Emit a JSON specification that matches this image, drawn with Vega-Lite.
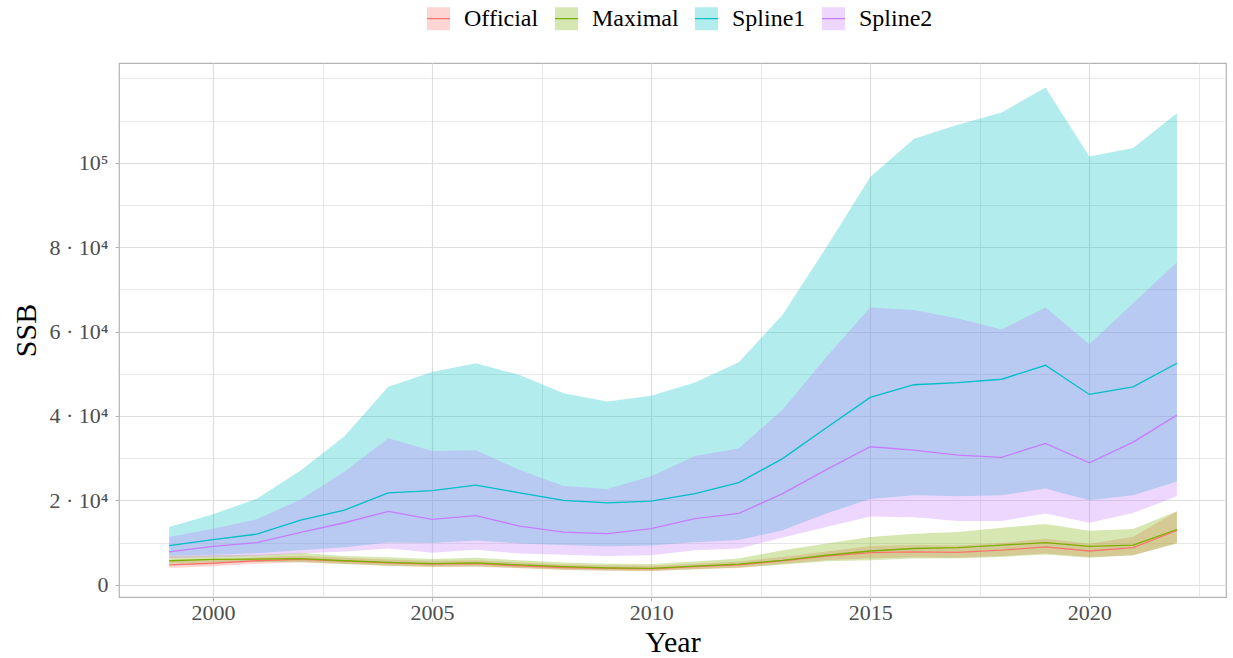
{
  "$schema": "https://vega.github.io/schema/vega-lite/v6.json",
  "width": 1107,
  "height": 534,
  "autosize": "none",
  "padding": {"left": 119, "top": 63, "right": 7, "bottom": 61},
  "background": "white",
  "config": {
    "view": {"stroke": "#b3b3b3", "strokeWidth": 1.2},
    "axis": {
      "labelFont": "Liberation Serif",
      "labelFontSize": 22,
      "labelColor": "#4d4d4d",
      "titleFont": "Liberation Serif",
      "titleFontSize": 30,
      "titleFontWeight": "normal",
      "titleColor": "black",
      "tickColor": "#b3b3b3",
      "tickSize": 4,
      "domain": false,
      "gridColor": "#dedede"
    }
  },
  "data": {"values": [
    {"year":1999,"series":"Official","est":4700,"lo":4000,"hi":5600},
    {"year":2000,"series":"Official","est":5100,"lo":4400,"hi":5900},
    {"year":2001,"series":"Official","est":5700,"lo":5000,"hi":6500},
    {"year":2002,"series":"Official","est":6000,"lo":5300,"hi":6900},
    {"year":2003,"series":"Official","est":5600,"lo":4900,"hi":6400},
    {"year":2004,"series":"Official","est":5200,"lo":4500,"hi":6000},
    {"year":2005,"series":"Official","est":4900,"lo":4200,"hi":5700},
    {"year":2006,"series":"Official","est":5000,"lo":4300,"hi":5800},
    {"year":2007,"series":"Official","est":4500,"lo":3900,"hi":5300},
    {"year":2008,"series":"Official","est":4100,"lo":3500,"hi":4800},
    {"year":2009,"series":"Official","est":3900,"lo":3300,"hi":4600},
    {"year":2010,"series":"Official","est":3800,"lo":3200,"hi":4500},
    {"year":2011,"series":"Official","est":4300,"lo":3700,"hi":5000},
    {"year":2012,"series":"Official","est":4700,"lo":4000,"hi":5500},
    {"year":2013,"series":"Official","est":5700,"lo":4900,"hi":6600},
    {"year":2014,"series":"Official","est":6800,"lo":5800,"hi":7900},
    {"year":2015,"series":"Official","est":7600,"lo":6300,"hi":9200},
    {"year":2016,"series":"Official","est":7800,"lo":6500,"hi":9400},
    {"year":2017,"series":"Official","est":7700,"lo":6400,"hi":9300},
    {"year":2018,"series":"Official","est":8200,"lo":6800,"hi":9900},
    {"year":2019,"series":"Official","est":9000,"lo":7400,"hi":10900},
    {"year":2020,"series":"Official","est":8000,"lo":6600,"hi":9700},
    {"year":2021,"series":"Official","est":8800,"lo":7000,"hi":11400},
    {"year":2022,"series":"Official","est":12900,"lo":9900,"hi":17400},
    {"year":1999,"series":"Maximal","est":5700,"lo":5000,"hi":6800},
    {"year":2000,"series":"Maximal","est":6000,"lo":5300,"hi":7000},
    {"year":2001,"series":"Maximal","est":6100,"lo":5400,"hi":7100},
    {"year":2002,"series":"Maximal","est":6200,"lo":5400,"hi":7600},
    {"year":2003,"series":"Maximal","est":5700,"lo":4900,"hi":6800},
    {"year":2004,"series":"Maximal","est":5300,"lo":4500,"hi":6500},
    {"year":2005,"series":"Maximal","est":5000,"lo":4300,"hi":6100},
    {"year":2006,"series":"Maximal","est":5200,"lo":4400,"hi":6400},
    {"year":2007,"series":"Maximal","est":4700,"lo":4000,"hi":5800},
    {"year":2008,"series":"Maximal","est":4300,"lo":3600,"hi":5300},
    {"year":2009,"series":"Maximal","est":4000,"lo":3400,"hi":5000},
    {"year":2010,"series":"Maximal","est":3900,"lo":3300,"hi":4900},
    {"year":2011,"series":"Maximal","est":4400,"lo":3700,"hi":5500},
    {"year":2012,"series":"Maximal","est":4900,"lo":4100,"hi":6200},
    {"year":2013,"series":"Maximal","est":5800,"lo":4800,"hi":8200},
    {"year":2014,"series":"Maximal","est":7000,"lo":5600,"hi":9800},
    {"year":2015,"series":"Maximal","est":8000,"lo":5800,"hi":11300},
    {"year":2016,"series":"Maximal","est":8600,"lo":6200,"hi":12100},
    {"year":2017,"series":"Maximal","est":8800,"lo":6300,"hi":12500},
    {"year":2018,"series":"Maximal","est":9400,"lo":6600,"hi":13500},
    {"year":2019,"series":"Maximal","est":10000,"lo":7200,"hi":14400},
    {"year":2020,"series":"Maximal","est":9100,"lo":6400,"hi":12800},
    {"year":2021,"series":"Maximal","est":9400,"lo":7000,"hi":13200},
    {"year":2022,"series":"Maximal","est":13100,"lo":9800,"hi":17400},
    {"year":1999,"series":"Spline1","est":9300,"lo":6900,"hi":13700},
    {"year":2000,"series":"Spline1","est":10700,"lo":7100,"hi":16700},
    {"year":2001,"series":"Spline1","est":12000,"lo":7500,"hi":20400},
    {"year":2002,"series":"Spline1","est":15300,"lo":8200,"hi":27100},
    {"year":2003,"series":"Spline1","est":17700,"lo":8900,"hi":35200},
    {"year":2004,"series":"Spline1","est":21800,"lo":10000,"hi":46900},
    {"year":2005,"series":"Spline1","est":22300,"lo":9900,"hi":50400},
    {"year":2006,"series":"Spline1","est":23600,"lo":10500,"hi":52500},
    {"year":2007,"series":"Spline1","est":21800,"lo":9800,"hi":49700},
    {"year":2008,"series":"Spline1","est":20000,"lo":9400,"hi":45400},
    {"year":2009,"series":"Spline1","est":19400,"lo":9100,"hi":43400},
    {"year":2010,"series":"Spline1","est":19800,"lo":9300,"hi":44800},
    {"year":2011,"series":"Spline1","est":21600,"lo":10100,"hi":47900},
    {"year":2012,"series":"Spline1","est":24200,"lo":10600,"hi":52700},
    {"year":2013,"series":"Spline1","est":29900,"lo":12900,"hi":64000},
    {"year":2014,"series":"Spline1","est":37200,"lo":16900,"hi":80000},
    {"year":2015,"series":"Spline1","est":44400,"lo":20300,"hi":96600},
    {"year":2016,"series":"Spline1","est":47400,"lo":21200,"hi":105700},
    {"year":2017,"series":"Spline1","est":47900,"lo":21000,"hi":109000},
    {"year":2018,"series":"Spline1","est":48700,"lo":21200,"hi":111900},
    {"year":2019,"series":"Spline1","est":52000,"lo":22800,"hi":117800},
    {"year":2020,"series":"Spline1","est":45100,"lo":20000,"hi":101500},
    {"year":2021,"series":"Spline1","est":46900,"lo":21200,"hi":103500},
    {"year":2022,"series":"Spline1","est":52500,"lo":24500,"hi":111700},
    {"year":1999,"series":"Spline2","est":7800,"lo":6300,"hi":11300},
    {"year":2000,"series":"Spline2","est":9100,"lo":6500,"hi":13300},
    {"year":2001,"series":"Spline2","est":10000,"lo":6800,"hi":15500},
    {"year":2002,"series":"Spline2","est":12400,"lo":7400,"hi":20200},
    {"year":2003,"series":"Spline2","est":14700,"lo":7900,"hi":26800},
    {"year":2004,"series":"Spline2","est":17400,"lo":8600,"hi":34700},
    {"year":2005,"series":"Spline2","est":15500,"lo":7600,"hi":31700},
    {"year":2006,"series":"Spline2","est":16400,"lo":8300,"hi":31900},
    {"year":2007,"series":"Spline2","est":13900,"lo":7400,"hi":27200},
    {"year":2008,"series":"Spline2","est":12500,"lo":7100,"hi":23400},
    {"year":2009,"series":"Spline2","est":12100,"lo":6800,"hi":22700},
    {"year":2010,"series":"Spline2","est":13300,"lo":7000,"hi":25700},
    {"year":2011,"series":"Spline2","est":15700,"lo":8200,"hi":30500},
    {"year":2012,"series":"Spline2","est":16900,"lo":8600,"hi":32300},
    {"year":2013,"series":"Spline2","est":21600,"lo":11200,"hi":41500},
    {"year":2014,"series":"Spline2","est":27300,"lo":13700,"hi":54000},
    {"year":2015,"series":"Spline2","est":32700,"lo":16200,"hi":65700},
    {"year":2016,"series":"Spline2","est":31900,"lo":16000,"hi":65100},
    {"year":2017,"series":"Spline2","est":30700,"lo":15100,"hi":63100},
    {"year":2018,"series":"Spline2","est":30200,"lo":15100,"hi":60500},
    {"year":2019,"series":"Spline2","est":33500,"lo":16900,"hi":65700},
    {"year":2020,"series":"Spline2","est":28900,"lo":14700,"hi":57000},
    {"year":2021,"series":"Spline2","est":33800,"lo":17000,"hi":66700},
    {"year":2022,"series":"Spline2","est":40200,"lo":21000,"hi":76400}
  ]},
  "encoding": {
    "x": {
      "field": "year",
      "type": "quantitative",
      "scale": {"domain": [1997.855, 2023.12], "nice": false, "zero": false},
      "axis": {
        "title": "Year",
        "values": [2000, 2002.5, 2005, 2007.5, 2010, 2012.5, 2015, 2017.5, 2020, 2022.5],
        "labelExpr": "datum.value % 5 === 0 ? '' + datum.value : ''",
        "grid": true,
        "gridWidth": {"condition": {"test": "datum.value % 5 === 0", "value": 1.2}, "value": 0.7},
        "tickOpacity": {"condition": {"test": "datum.value % 5 === 0", "value": 1}, "value": 0},
        "labelPadding": 1,
        "titlePadding": 4
      }
    }
  },
  "layer": [
    {
      "mark": {"type": "area", "fillOpacity": 0.3},
      "encoding": {
        "y": {
          "field": "lo",
          "type": "quantitative",
          "scale": {"domain": [-2894, 123629], "nice": false, "zero": false},
          "axis": {
            "title": "SSB",
            "values": [0, 10000, 20000, 30000, 40000, 50000, 60000, 70000, 80000, 90000, 100000, 110000, 120000],
            "labelExpr": "datum.value % 20000 === 0 && datum.value <= 100000 ? (datum.value === 0 ? '0' : (datum.value === 100000 ? '10⁵' : (datum.value / 10000) + ' · 10⁴')) : ''",
            "grid": true,
            "gridWidth": {"condition": {"test": "datum.value % 20000 === 0 && datum.value <= 100000", "value": 1.2}, "value": 0.7},
            "tickOpacity": {"condition": {"test": "datum.value % 20000 === 0 && datum.value <= 100000", "value": 1}, "value": 0},
            "labelPadding": 7,
            "titlePadding": 8
          }
        },
        "y2": {"field": "hi"},
        "fill": {
          "field": "series",
          "type": "nominal",
          "scale": {"domain": ["Official", "Maximal", "Spline1", "Spline2"], "range": ["#F8766D", "#7CAE00", "#00BFC4", "#C77CFF"]},
          "legend": {
            "title": null,
            "orient": "none",
            "legendX": 307,
            "legendY": -57,
            "direction": "horizontal",
            "symbolType": "M-1,0H1V-1H-1V1H1V0Z",
            "symbolSize": 529,
            "symbolStrokeWidth": 1.3,
            "symbolDash": [23, 92],
            "labelFont": "Liberation Serif",
            "labelFontSize": 24,
            "labelColor": "black",
            "labelOffset": 13,
            "columnPadding": 13,
            "labelLimit": 0,
            "encode": {"symbols": {"update": {"fillOpacity": {"value": 0.3}, "strokeOpacity": {"value": 1}, "opacity": {"value": 1}}}}
          }
        }
      }
    },
    {
      "mark": {"type": "line", "strokeWidth": 1.3},
      "encoding": {
        "y": {"field": "est", "type": "quantitative", "axis": {"title": "SSB"}},
        "stroke": {
          "field": "series",
          "type": "nominal",
          "scale": {"domain": ["Official", "Maximal", "Spline1", "Spline2"], "range": ["#F8766D", "#7CAE00", "#00BFC4", "#C77CFF"]},
          "legend": {
            "title": null,
            "orient": "none",
            "legendX": 307,
            "legendY": -57,
            "direction": "horizontal",
            "symbolType": "M-1,0H1V-1H-1V1H1V0Z",
            "symbolSize": 529,
            "symbolStrokeWidth": 1.3,
            "symbolDash": [23, 92],
            "labelFont": "Liberation Serif",
            "labelFontSize": 24,
            "labelColor": "black",
            "labelOffset": 13,
            "columnPadding": 13,
            "labelLimit": 0,
            "encode": {"symbols": {"update": {"fillOpacity": {"value": 0.3}, "strokeOpacity": {"value": 1}, "opacity": {"value": 1}}}}
          }
        }
      }
    }
  ]
}
